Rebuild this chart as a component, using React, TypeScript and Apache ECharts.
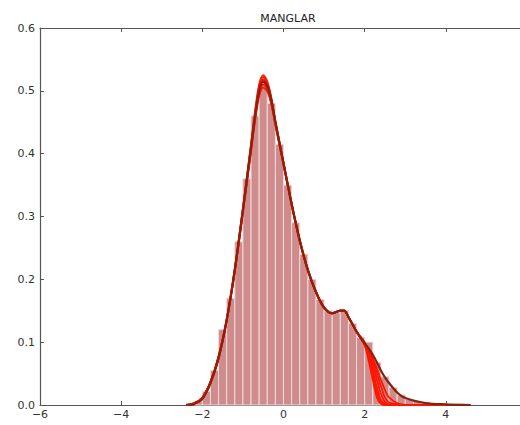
import React, { useEffect, useRef } from "react";
import * as echarts from "echarts";

const title = "MANGLAR";

// histogram: bin centers (width 0.2) and densities
const binCenters = [-2.1, -1.9, -1.7, -1.5, -1.3, -1.1, -0.9, -0.7, -0.5, -0.3, -0.1, 0.1, 0.3, 0.5, 0.7, 0.9, 1.1, 1.3, 1.5, 1.7, 1.9, 2.1, 2.3, 2.5, 2.7, 2.9, 3.1, 3.3, 3.5, 3.7, 3.9, 4.1, 4.3, 4.5];
const binHeights = [0.006, 0.022, 0.055, 0.12, 0.17, 0.26, 0.36, 0.46, 0.51, 0.48, 0.415, 0.35, 0.29, 0.24, 0.2, 0.168, 0.15, 0.147, 0.15, 0.13, 0.108, 0.1, 0.068, 0.045, 0.028, 0.016, 0.009, 0.006, 0.004, 0.003, 0.002, 0.001, 0.001, 0.001];
const binWidth = 0.2;

// density curves
const kdeX = [-2.4, -2.2, -2.0, -1.8, -1.6, -1.4, -1.2, -1.0, -0.8, -0.7, -0.6, -0.5, -0.4, -0.3, -0.2, 0, 0.2, 0.4, 0.6, 0.8, 1.0, 1.2, 1.4, 1.5, 1.6, 1.8, 2.0, 2.1, 2.2, 2.3, 2.4, 2.5, 2.6, 2.8, 3.0, 3.5, 4.0, 4.6];
const kdeDark = [0, 0.002, 0.01, 0.035, 0.075, 0.135, 0.215, 0.31, 0.41, 0.46, 0.5, 0.515, 0.508, 0.485, 0.45, 0.385, 0.32, 0.262, 0.215, 0.18, 0.155, 0.146, 0.15, 0.15, 0.14, 0.117, 0.098, 0.09, 0.08, 0.068, 0.055, 0.044, 0.035, 0.02, 0.011, 0.003, 0.001, 0];
const kdeRed1 = [0, 0.003, 0.012, 0.037, 0.077, 0.136, 0.216, 0.312, 0.413, 0.465, 0.507, 0.522, 0.512, 0.487, 0.451, 0.386, 0.321, 0.262, 0.215, 0.18, 0.155, 0.146, 0.15, 0.15, 0.14, 0.116, 0.095, 0.07, 0.04, 0.012, 0.002, 0, 0, 0, 0, 0, 0, 0];
const kdeRed2 = [0, 0.002, 0.011, 0.036, 0.076, 0.135, 0.215, 0.311, 0.411, 0.462, 0.503, 0.518, 0.51, 0.486, 0.45, 0.385, 0.32, 0.262, 0.215, 0.18, 0.155, 0.146, 0.15, 0.15, 0.14, 0.117, 0.097, 0.08, 0.055, 0.028, 0.008, 0.001, 0, 0, 0, 0, 0, 0];
const kdeRed3 = [0, 0.002, 0.01, 0.035, 0.074, 0.134, 0.213, 0.308, 0.406, 0.456, 0.496, 0.51, 0.503, 0.481, 0.447, 0.383, 0.319, 0.261, 0.214, 0.179, 0.155, 0.146, 0.15, 0.15, 0.14, 0.117, 0.1, 0.085, 0.065, 0.04, 0.018, 0.005, 0.001, 0, 0, 0, 0, 0];
const kdeRed4 = [0, 0.003, 0.012, 0.037, 0.078, 0.137, 0.218, 0.314, 0.416, 0.468, 0.51, 0.525, 0.515, 0.489, 0.452, 0.386, 0.321, 0.263, 0.216, 0.18, 0.155, 0.146, 0.15, 0.15, 0.14, 0.117, 0.098, 0.088, 0.075, 0.058, 0.04, 0.024, 0.012, 0.003, 0, 0, 0, 0];
const kdeRed5 = [0, 0.002, 0.01, 0.034, 0.073, 0.133, 0.212, 0.306, 0.403, 0.452, 0.491, 0.505, 0.499, 0.478, 0.445, 0.382, 0.318, 0.26, 0.213, 0.179, 0.154, 0.146, 0.15, 0.15, 0.14, 0.117, 0.099, 0.087, 0.072, 0.05, 0.03, 0.012, 0.004, 0.001, 0, 0, 0, 0];
const kdeRed6 = [0, 0.002, 0.011, 0.036, 0.075, 0.135, 0.214, 0.309, 0.408, 0.458, 0.499, 0.514, 0.506, 0.484, 0.449, 0.384, 0.32, 0.262, 0.215, 0.18, 0.155, 0.146, 0.15, 0.15, 0.14, 0.117, 0.096, 0.075, 0.048, 0.02, 0.004, 0, 0, 0, 0, 0, 0, 0];

const yMin = 0;
const yMax = 0.6;
const yStep = 0.1;

// the tick at 6 falls outside the visible picture, so its label is left out
const fmtX = (v: number) => (v >= 6 ? "" : String(v).replace("-", "\u2212"));

export default function App() {
  const ref = useRef<HTMLDivElement>(null);
  useEffect(() => {
    if (!ref.current) return;
    const chart = echarts.init(ref.current, undefined, { renderer: "svg" });
    const pair = (ys: number[]) => kdeX.map((x, i) => [x, ys[i]]);
    const redLine = (ys: number[]) => ({
      type: "line",
      data: pair(ys),
      smooth: 0.3,
      showSymbol: false,
      symbol: "none",
      lineStyle: { color: "#ff1500", width: 1.8 },
      z: 3,
      silent: true,
    });
    const axisLine = { show: true, onZero: false, lineStyle: { color: "#555", width: 1.2 } };
    const axisTick = { show: true, inside: true, length: 4, lineStyle: { color: "#555" } };
    const label = { color: "#333", fontSize: 11, fontFamily: "DejaVu Sans" };
    chart.setOption({
      animation: false,
      title: {
        text: title,
        left: 283,
        top: 8,
        textAlign: "center",
        textStyle: { fontSize: 11, fontWeight: "normal", color: "#222", fontFamily: "DejaVu Sans" },
      },
      grid: { left: 40, right: 13, top: 28, bottom: 20, containLabel: false },
      xAxis: [
        {
          type: "value", min: -6, max: 6, interval: 2, position: "bottom",
          axisLine, axisTick, splitLine: { show: false },
          axisLabel: { ...label, margin: 4, formatter: (v: number) => fmtX(v) },
        },
        {
          type: "value", min: -6, max: 6, interval: 2, position: "top",
          axisLine, axisTick, splitLine: { show: false }, axisLabel: { show: false },
        },
      ],
      yAxis: [
        {
          type: "value", min: yMin, max: yMax, interval: yStep, position: "left",
          axisLine, axisTick, splitLine: { show: false },
          axisLabel: { ...label, margin: 5, formatter: (v: number) => v.toFixed(1) },
        },
        {
          type: "value", min: yMin, max: yMax, interval: yStep, position: "right",
          axisLine, axisTick, splitLine: { show: false }, axisLabel: { show: false },
        },
      ],
      series: [
        {
          type: "custom",
          xAxisIndex: 0,
          yAxisIndex: 0,
          data: binCenters.map((c, i) => [c, binHeights[i]]),
          renderItem: (params: any, api: any) => {
            const c = api.value(0);
            const h = api.value(1);
            const p0 = api.coord([c - binWidth / 2, h]);
            const p1 = api.coord([c + binWidth / 2, 0]);
            return {
              type: "rect",
              shape: { x: p0[0], y: p0[1], width: p1[0] - p0[0], height: p1[1] - p0[1] },
              style: { fill: "#cf8c8c", stroke: "#f1dada", lineWidth: 1 },
            };
          },
          z: 2,
          silent: true,
        },
        redLine(kdeRed1),
        redLine(kdeRed2),
        redLine(kdeRed3),
        redLine(kdeRed4),
        redLine(kdeRed5),
        redLine(kdeRed6),
        {
          type: "line",
          data: pair(kdeDark),
          smooth: 0.3,
          showSymbol: false,
          symbol: "none",
          lineStyle: { color: "#842410", width: 2.2 },
          z: 4,
          silent: true,
        },
      ],
    });
    return () => chart.dispose();
  }, []);
  return (
    <div style={{ position: "absolute", left: 0, top: 0, width: 520, height: 425, overflow: "hidden", background: "#fff" }}>
      <div ref={ref} style={{ width: 540, height: 425 }} />
    </div>
  );
}
